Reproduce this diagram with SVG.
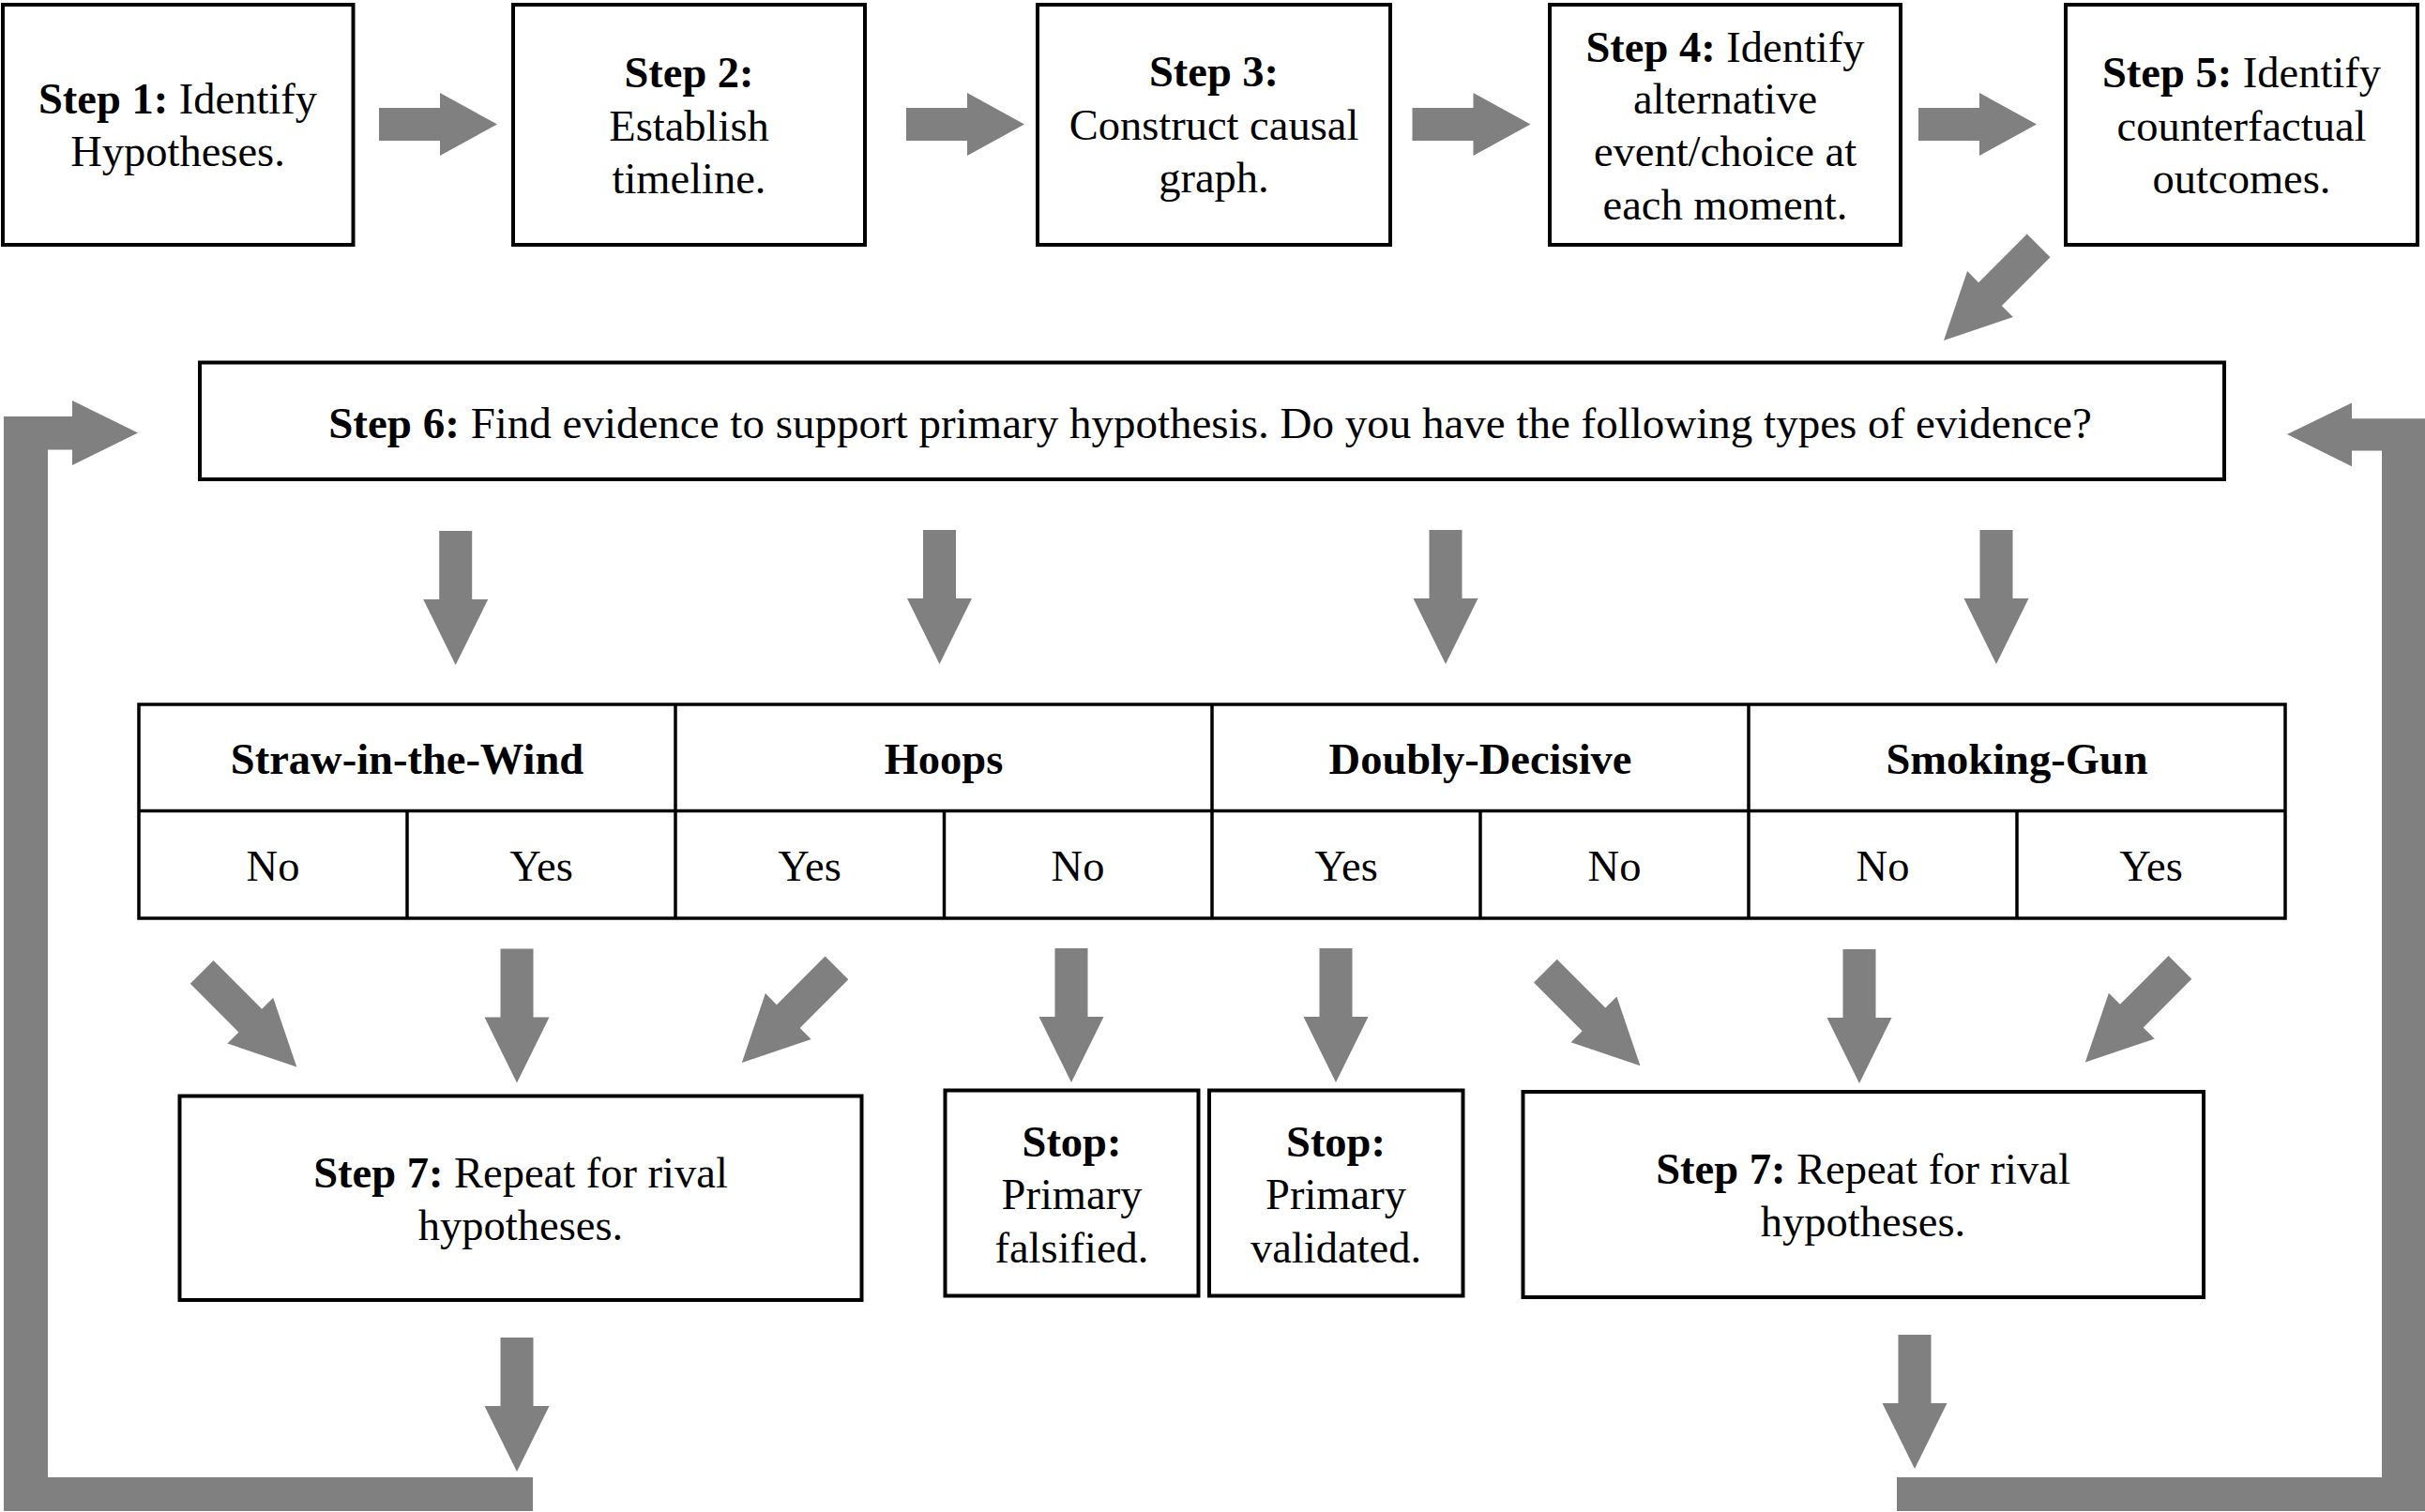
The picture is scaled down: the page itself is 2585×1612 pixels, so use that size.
<svg xmlns="http://www.w3.org/2000/svg" width="2585" height="1612" viewBox="0 0 2585 1612">
<style>
.box{fill:#fff;stroke:#000;stroke-width:4}
.tbl{fill:none;stroke:#000;stroke-width:3.5}
.t{font-family:'Liberation Serif','DejaVu Serif',serif;font-size:46.5px;fill:#000;text-anchor:middle}
.b{font-weight:bold}
.arrows{fill:#808080}
</style>
<defs>
<polygon id="ad" points="-17.5,-143 17.5,-143 17.5,-70 34.5,-70 0,0 -34.5,-70 -17.5,-70"/>
<polygon id="ar" points="-126,-17.5 -61,-17.5 -61,-33.5 0,0 -61,33.5 -61,17.5 -126,17.5"/>
</defs>
<rect width="2585" height="1612" fill="#fff"/>

<g id="connectors" class="arrows">
<use href="#ar" transform="translate(530,132.5)"/>
<use href="#ar" transform="translate(1092,132.5)"/>
<use href="#ar" transform="translate(1631.5,132.5)"/>
<use href="#ar" transform="translate(2171,132.5)"/>
<use href="#ad" transform="translate(2072,363) rotate(45)"/>
<use href="#ad" transform="translate(485.7,709)"/>
<use href="#ad" transform="translate(1001.5,708)"/>
<use href="#ad" transform="translate(1541,708)"/>
<use href="#ad" transform="translate(2128,708)"/>
<use href="#ad" transform="translate(316.3,1137.6) rotate(-45)"/>
<use href="#ad" transform="translate(551,1154.5)"/>
<use href="#ad" transform="translate(790.8,1133) rotate(45)"/>
<use href="#ad" transform="translate(1142,1154)"/>
<use href="#ad" transform="translate(1424,1154)"/>
<use href="#ad" transform="translate(1748.5,1136.3) rotate(-45)"/>
<use href="#ad" transform="translate(1982,1155)"/>
<use href="#ad" transform="translate(2222.8,1132.6) rotate(45)"/>
<use href="#ad" transform="translate(551,1569)"/>
<use href="#ad" transform="translate(2041,1566)"/>
<polygon id="loop-left" points="4,1611 4,444 77,444 77,427 147,461.5 77,496 77,479.5 51,479.5 51,1575 568,1575 568,1611"/>
<polygon id="loop-right" points="2022,1575 2539,1575 2539,480.5 2507,480.5 2507,497.3 2438,463 2507,429.5 2507,446.3 2585,446.3 2585,1611 2022,1611"/>
</g>

<g id="step1">
<rect class="box" x="3" y="5" width="373.5" height="256"/>
<text class="t" x="189.5" y="120.5"><tspan class="b">Step 1:</tspan> Identify</text>
<text class="t" x="189.5" y="177">Hypotheses.</text>
</g>
<g id="step2">
<rect class="box" x="547" y="5" width="375" height="256"/>
<text class="t" x="734.5" y="93"><tspan class="b">Step 2:</tspan></text>
<text class="t" x="734.5" y="150">Establish</text>
<text class="t" x="734.5" y="206">timeline.</text>
</g>
<g id="step3">
<rect class="box" x="1106" y="5" width="376" height="256"/>
<text class="t" x="1294" y="92"><tspan class="b">Step 3:</tspan></text>
<text class="t" x="1294" y="149">Construct causal</text>
<text class="t" x="1294" y="205">graph.</text>
</g>
<g id="step4">
<rect class="box" x="1652" y="5" width="374" height="256"/>
<text class="t" x="1839" y="65.5"><tspan class="b">Step 4:</tspan> Identify</text>
<text class="t" x="1839" y="121">alternative</text>
<text class="t" x="1839" y="177">event/choice at</text>
<text class="t" x="1839" y="233.5">each moment.</text>
</g>
<g id="step5">
<rect class="box" x="2202" y="5" width="375" height="256"/>
<text class="t" x="2389.5" y="93"><tspan class="b">Step 5:</tspan> Identify</text>
<text class="t" x="2389.5" y="150">counterfactual</text>
<text class="t" x="2389.5" y="206">outcomes.</text>
</g>
<g id="step6">
<rect class="box" x="213" y="386.5" width="2158" height="124.5"/>
<text class="t" x="1290" y="466.5" style="font-size:47px"><tspan class="b">Step 6:</tspan> Find evidence to support primary hypothesis. Do you have the following types of evidence?</text>
</g>

<g id="evidence-table">
<rect class="tbl" x="148" y="751" width="2288" height="228"/>
<line class="tbl" x1="148" y1="864.5" x2="2436" y2="864.5"/>
<line class="tbl" x1="720" y1="751" x2="720" y2="979"/>
<line class="tbl" x1="1292" y1="751" x2="1292" y2="979"/>
<line class="tbl" x1="1864" y1="751" x2="1864" y2="979"/>
<line class="tbl" x1="434" y1="864.5" x2="434" y2="979"/>
<line class="tbl" x1="1006.5" y1="864.5" x2="1006.5" y2="979"/>
<line class="tbl" x1="1578" y1="864.5" x2="1578" y2="979"/>
<line class="tbl" x1="2150" y1="864.5" x2="2150" y2="979"/>
<text class="t b" x="434" y="825">Straw-in-the-Wind</text>
<text class="t b" x="1006" y="825">Hoops</text>
<text class="t b" x="1578" y="825">Doubly-Decisive</text>
<text class="t b" x="2150" y="825">Smoking-Gun</text>
<text class="t" x="291" y="938.5">No</text>
<text class="t" x="577" y="938.5">Yes</text>
<text class="t" x="863" y="938.5">Yes</text>
<text class="t" x="1149" y="938.5">No</text>
<text class="t" x="1435" y="938.5">Yes</text>
<text class="t" x="1721" y="938.5">No</text>
<text class="t" x="2007" y="938.5">No</text>
<text class="t" x="2293" y="938.5">Yes</text>
</g>

<g id="step7-left">
<rect class="box" x="191.5" y="1168.5" width="727" height="217.5"/>
<text class="t" x="555" y="1266"><tspan class="b">Step 7:</tspan> Repeat for rival</text>
<text class="t" x="555" y="1322">hypotheses.</text>
</g>
<g id="stop-falsified">
<rect class="box" x="1007.5" y="1162.5" width="270" height="219"/>
<text class="t b" x="1142.5" y="1232.5">Stop:</text>
<text class="t" x="1142.5" y="1289">Primary</text>
<text class="t" x="1142.5" y="1345.5">falsified.</text>
</g>
<g id="stop-validated">
<rect class="box" x="1289" y="1162.5" width="270.5" height="219"/>
<text class="t b" x="1424" y="1232.5">Stop:</text>
<text class="t" x="1424" y="1289">Primary</text>
<text class="t" x="1424" y="1345.5">validated.</text>
</g>
<g id="step7-right">
<rect class="box" x="1623.5" y="1164" width="725.5" height="219"/>
<text class="t" x="1986" y="1262"><tspan class="b">Step 7:</tspan> Repeat for rival</text>
<text class="t" x="1986" y="1318">hypotheses.</text>
</g>
</svg>
